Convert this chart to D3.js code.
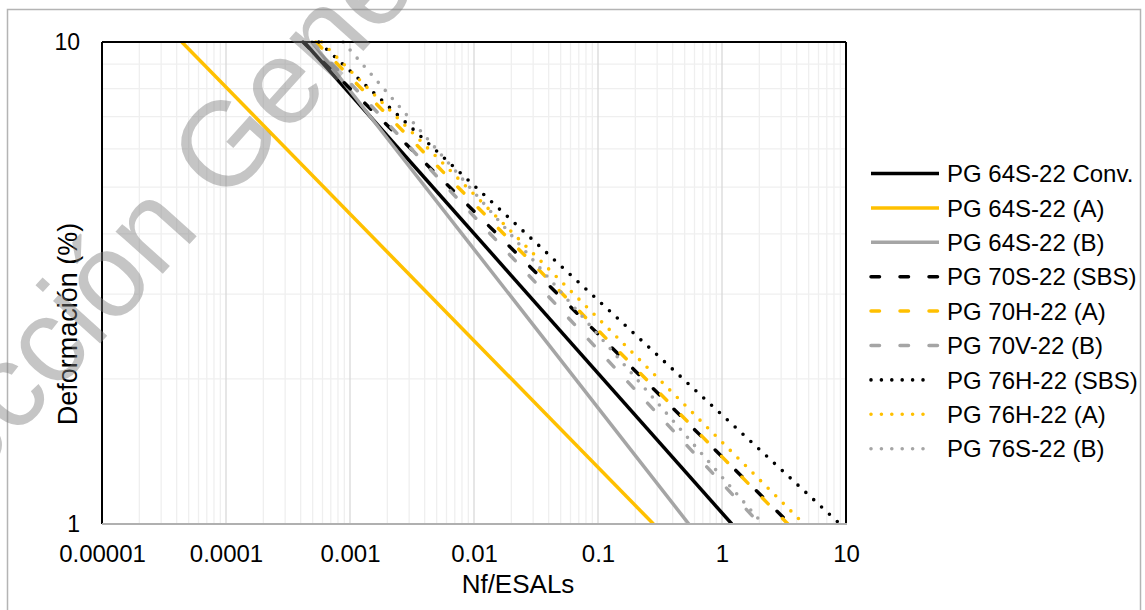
<!DOCTYPE html>
<html>
<head>
<meta charset="utf-8">
<script src="https://cdn.jsdelivr.net/npm/d3@7"></script>
<style>
  html, body { margin: 0; padding: 0; background: #fff; }
  svg { display: block; }
  text { font-family: "Liberation Sans", Arial, sans-serif; }
</style>
</head>
<body>
<svg id="chart" width="1145" height="610"></svg>
<script>
// Fatigue curves: Nf/ESALs reached at 10 % and at 1 % deformation for each binder
const seriesNames = [
  "PG 64S-22 Conv.", "PG 64S-22 (A)", "PG 64S-22 (B)",
  "PG 70S-22 (SBS)", "PG 70H-22 (A)", "PG 70V-22 (B)",
  "PG 76H-22 (SBS)", "PG 76H-22 (A)", "PG 76S-22 (B)"
];
const deformationLevels = [10, 1];
const nfAtDef10 = [4.26e-4, 4.4e-5, 4.94e-4, 4.18e-4, 5.3e-4, 4.94e-4, 5.6e-4, 5.9e-4, 8.8e-4];
const nfAtDef1  = [1.2, 0.28, 0.54, 3.53, 3.40, 2.02, 8.95, 4.58, 2.14];

const xTickValues = [1e-5, 1e-4, 1e-3, 1e-2, 1e-1, 1, 10];
const xTickLabels = ["0.00001", "0.0001", "0.001", "0.01", "0.1", "1", "10"];
const yTickValues = [1, 10];
const yTickLabels = ["1", "10"];

// Line appearance per series (colour family + stroke pattern)
const BLACK = "#000000", GOLD = "#ffc000", GREY = "#a5a5a5";
const seriesStyle = [
  { color: BLACK, kind: "solid" }, { color: GOLD, kind: "solid" }, { color: GREY, kind: "solid" },
  { color: BLACK, kind: "dash" },  { color: GOLD, kind: "dash" },  { color: GREY, kind: "dash" },
  { color: BLACK, kind: "dot" },   { color: GOLD, kind: "dot" },   { color: GREY, kind: "dot" }
];
const dashFor = { solid: null, dash: "8.5 20.5", dot: "0 10.7" };

const svg = d3.select("#chart");
const plot = { left: 102, right: 846, top: 42, bottom: 524 };

const x = d3.scaleLog().domain([1e-5, 10]).range([plot.left, plot.right]);
const y = d3.scaleLog().domain([1, 10]).range([plot.bottom, plot.top]);

// Outer chart frame
svg.append("rect")
  .attr("x", 7.5).attr("y", 9.5)
  .attr("width", 1133).attr("height", 640)
  .attr("fill", "#fff").attr("stroke", "#b4b4b4").attr("stroke-width", 1.5);

// Gridlines
const grid = svg.append("g");
const minorX = [];
for (let e = -5; e < 1; e++) for (let k = 2; k <= 9; k++) minorX.push(k * Math.pow(10, e));
grid.selectAll("line.mx").data(minorX).join("line")
  .attr("x1", d => x(d)).attr("x2", d => x(d))
  .attr("y1", plot.top).attr("y2", plot.bottom)
  .attr("stroke", "#efefef").attr("stroke-width", 1.3);
const minorY = d3.range(2, 10);
grid.selectAll("line.my").data(minorY).join("line")
  .attr("x1", plot.left).attr("x2", plot.right)
  .attr("y1", d => y(d)).attr("y2", d => y(d))
  .attr("stroke", "#efefef").attr("stroke-width", 1.3);
grid.selectAll("line.Mx").data(xTickValues.slice(1, -1)).join("line")
  .attr("x1", d => x(d)).attr("x2", d => x(d))
  .attr("y1", plot.top).attr("y2", plot.bottom)
  .attr("stroke", "#d9d9d9").attr("stroke-width", 1.3);

// Series lines
svg.append("clipPath").attr("id", "plotClip").append("rect")
  .attr("x", plot.left).attr("y", plot.top - 2)
  .attr("width", plot.right - plot.left).attr("height", plot.bottom - plot.top + 2);

const seriesData = seriesNames.map((name, i) => ({
  name,
  style: seriesStyle[i],
  points: deformationLevels.map((def, j) => ({ nf: j === 0 ? nfAtDef10[i] : nfAtDef1[i], def }))
}));

const line = d3.line().x(d => x(d.nf)).y(d => y(d.def));
svg.append("g").attr("clip-path", "url(#plotClip)")
  .selectAll("path").data(seriesData).join("path")
  .attr("d", d => line(d.points))
  .attr("fill", "none")
  .attr("stroke", d => d.style.color)
  .attr("stroke-width", d => d.style.kind === "dot" ? 3.6 : 3.5)
  .attr("stroke-linecap", d => d.style.kind === "solid" ? "butt" : "round")
  .attr("stroke-dasharray", d => dashFor[d.style.kind]);

// Plot border and axes
svg.append("line")
  .attr("x1", plot.left).attr("x2", plot.right).attr("y1", plot.top).attr("y2", plot.top)
  .attr("stroke", "#000").attr("stroke-width", 2);
svg.append("line")
  .attr("x1", plot.right).attr("x2", plot.right).attr("y1", plot.top).attr("y2", plot.bottom)
  .attr("stroke", "#000").attr("stroke-width", 2);
svg.append("line")
  .attr("x1", plot.left).attr("x2", plot.left).attr("y1", plot.top).attr("y2", plot.bottom)
  .attr("stroke", "#000").attr("stroke-width", 2);
svg.append("line")
  .attr("x1", plot.left).attr("x2", plot.right + 1).attr("y1", plot.bottom).attr("y2", plot.bottom)
  .attr("stroke", "#b0b0b0").attr("stroke-width", 2);

const xAxis = d3.axisBottom(x).tickValues(xTickValues)
  .tickFormat((d, i) => xTickLabels[i]).tickSize(0).tickPadding(21);
const gx = svg.append("g").attr("transform", `translate(0,${plot.bottom})`).call(xAxis);
gx.select(".domain").remove();
gx.selectAll("text").attr("font-size", 24).attr("fill", "#000")
  .style("font-family", "'Liberation Sans', Arial, sans-serif");

const yAxis = d3.axisLeft(y).tickValues(yTickValues)
  .tickFormat((d, i) => yTickLabels[i]).tickSize(0).tickPadding(22);
const gy = svg.append("g").attr("transform", `translate(${plot.left},0)`).call(yAxis);
gy.select(".domain").remove();
gy.selectAll("text").attr("font-size", 23).attr("fill", "#000")
  .style("font-family", "'Liberation Sans', Arial, sans-serif");

// Axis titles
svg.append("text")
  .attr("x", 518).attr("y", 593)
  .attr("text-anchor", "middle").attr("font-size", 26).attr("fill", "#000")
  .text("Nf/ESALs");
svg.append("text")
  .attr("transform", "translate(77,324) rotate(-90)")
  .attr("text-anchor", "middle").attr("font-size", 27).attr("fill", "#000")
  .text("Deformación (%)");

// Legend
const legend = svg.append("g");
const rows = legend.selectAll("g").data(seriesData).join("g")
  .attr("transform", (d, i) => `translate(0,${173.5 + i * 34.4})`);
rows.append("line")
  .attr("x1", 871).attr("x2", d => d.style.kind === "dot" ? 933 : 939)
  .attr("y1", 0).attr("y2", 0)
  .attr("stroke", d => d.style.color)
  .attr("stroke-width", d => d.style.kind === "dot" ? 3.6 : 3.5)
  .attr("stroke-linecap", d => d.style.kind === "solid" ? "butt" : "round")
  .attr("stroke-dasharray", d => d.style.kind === "dash" ? "8.5 20.5" : (d.style.kind === "dot" ? "0 10.4" : null));
rows.append("text")
  .attr("x", 947).attr("y", 0).attr("dy", "0.36em")
  .attr("font-size", 24).attr("fill", "#000")
  .text(d => d.name);

// Library watermark across the chart
const wm = svg.append("g")
  .attr("transform", "translate(224,206) rotate(-48)")
  .attr("fill", "#7f7f7f").attr("fill-opacity", 0.45)
  .attr("font-size", 120);
wm.append("text").attr("x", -33).attr("text-anchor", "end").text("Dirección");
wm.append("text").attr("x", 0).attr("text-anchor", "start").text("General de Bibliotecas");
</script>
</body>
</html>
